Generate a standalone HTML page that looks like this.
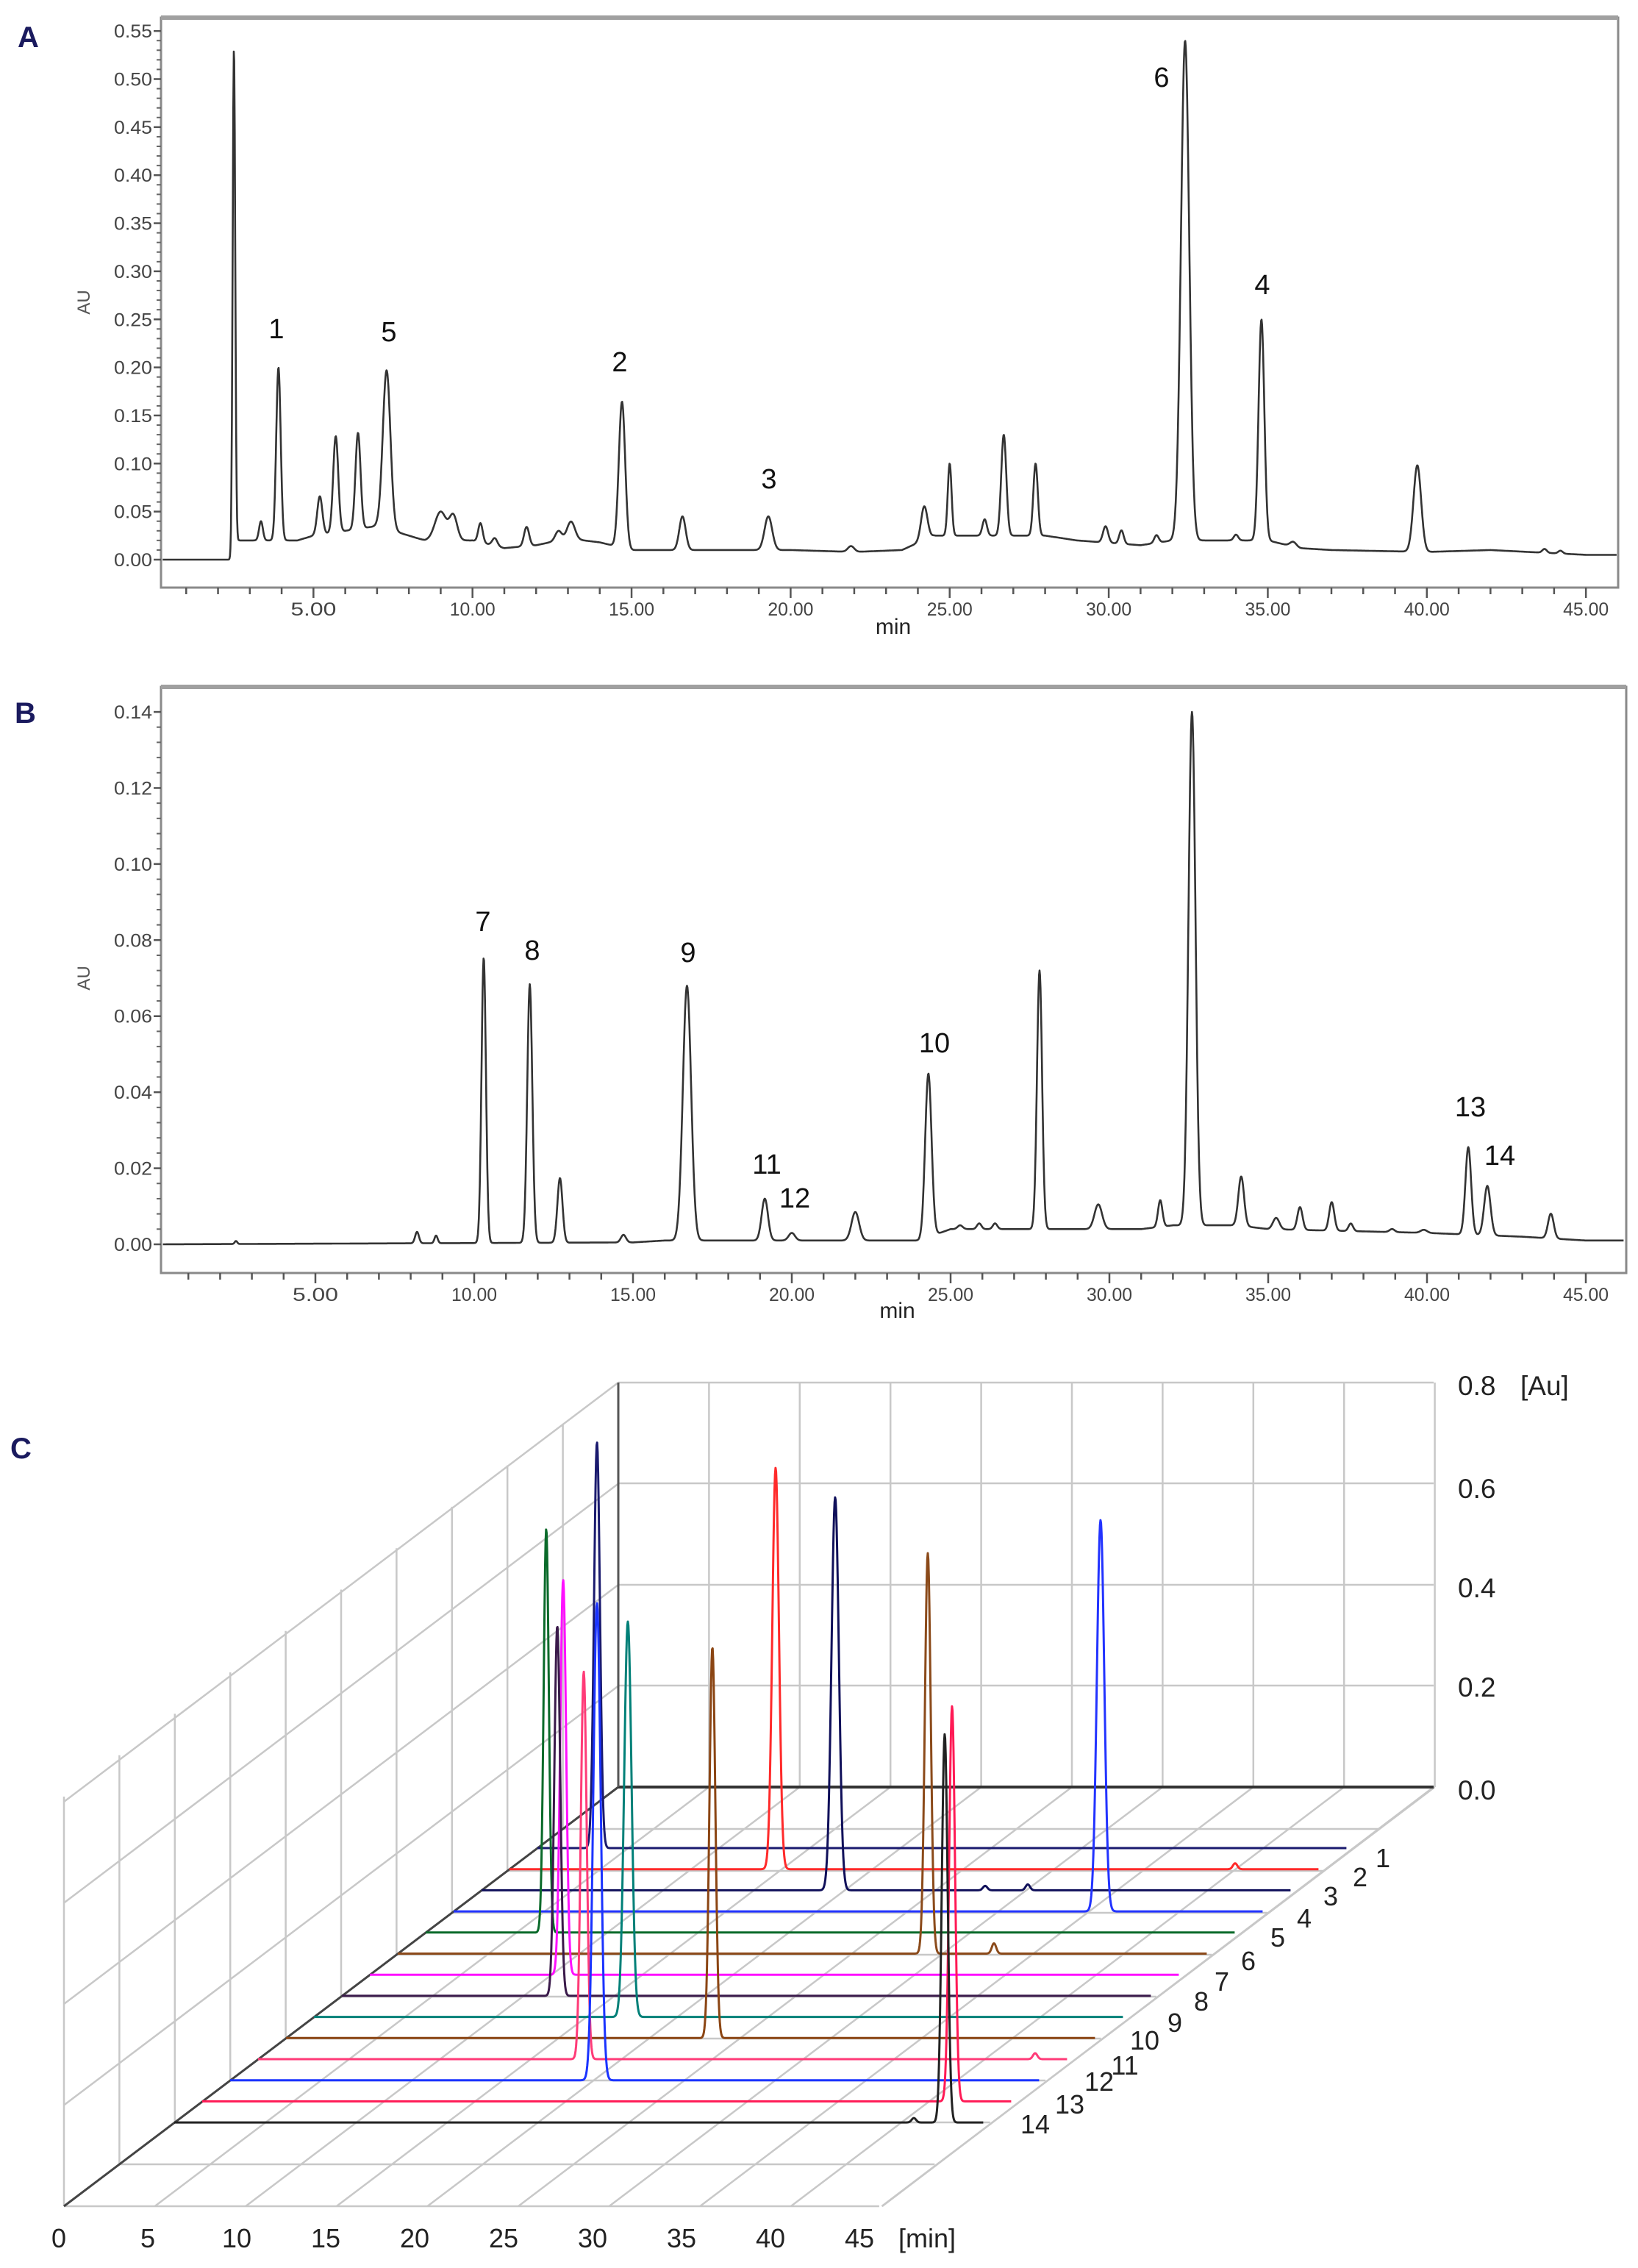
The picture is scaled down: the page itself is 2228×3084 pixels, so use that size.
<!DOCTYPE html>
<html><head><meta charset="utf-8"><style>
html,body{margin:0;padding:0;background:#fff}
svg{display:block}
text{font-family:"Liberation Sans",sans-serif}
</style></head><body>
<svg id="s" xmlns="http://www.w3.org/2000/svg" width="2228" height="3084" viewBox="0 0 2228 3084">
<rect width="2228" height="3084" fill="#fff"/>
<g id="A"></g><g id="B"></g><g id="C"></g>
<text x="24" y="64" font-size="40" font-weight="bold" fill="#1a1a5e">A</text>
<text x="20" y="983" font-size="40" font-weight="bold" fill="#1a1a5e">B</text>
<text x="14" y="1983" font-size="40" font-weight="bold" fill="#1a1a5e">C</text>
</svg>
<script>
var NS="http://www.w3.org/2000/svg";
function el(p,tag,attrs,txt){var e=document.createElementNS(NS,tag);for(var k in attrs)e.setAttribute(k,attrs[k]);if(txt!==undefined)e.textContent=txt;p.appendChild(e);return e;}
function interp(bl,t){for(var i=0;i<bl.length-1;i++){if(t>=bl[i][0]&&t<=bl[i+1][0]){var f=(t-bl[i][0])/(bl[i+1][0]-bl[i][0]);return bl[i][1]+f*(bl[i+1][1]-bl[i][1]);}}return bl[bl.length-1][1];}
function chrom(g,box,t0x,pxmin,y0,pxau,ticks,tickfmt,bl,pk,labels,minY,tickY,auY){
  // box
  el(g,"rect",{x:box[0],y:box[1],width:box[2]-box[0],height:box[3]-box[1],fill:"none",stroke:"#8a8a8a","stroke-width":3});
  el(g,"line",{x1:box[0],y1:box[1],x2:box[2],y2:box[1],stroke:"#a0a0a0","stroke-width":6});
  // x ticks
  for(var m=1;m<=45;m++){var x=t0x+pxmin*m;if(x>box[2])break;var L=(m%5==0)?14:9;
    el(g,"line",{x1:x,y1:box[3],x2:x,y2:box[3]+L,stroke:"#555","stroke-width":2.5});
    if(m%5==0) el(g,"text",{x:x,y:tickY,"font-size":25,"text-anchor":"middle",fill:"#444",textLength:62,lengthAdjust:"spacingAndGlyphs"},m+".00");}
  // y ticks
  ticks.forEach(function(v,i){var y=y0-pxau*v;el(g,"line",{x1:box[0]-10,y1:y,x2:box[0],y2:y,stroke:"#555","stroke-width":2.5});
    el(g,"text",{x:box[0]-12,y:y+9,"font-size":25,"text-anchor":"end",fill:"#444",textLength:52,lengthAdjust:"spacingAndGlyphs"},tickfmt(v));
    if(i<ticks.length-1){var dy=(ticks[1]-ticks[0])*pxau/5;for(var j=1;j<5;j++){el(g,"line",{x1:box[0]-6,y1:y-dy*j,x2:box[0],y2:y-dy*j,stroke:"#666","stroke-width":2});}}});
  el(g,"text",{x:(box[0]+box[2])/2+5,y:minY,"font-size":30,"text-anchor":"middle",fill:"#222"},"min");
  var at=el(g,"text",{x:0,y:0,"font-size":24,"text-anchor":"middle",fill:"#555",transform:"translate(122,"+auY+") rotate(-90)"},"AU");
  // curve
  var d="";for(var t=0.2;t<=46.2;t+=0.015){var v=interp(bl,t);pk.forEach(function(p){var z=(t-p[0])/p[2];if(Math.abs(z)<6)v+=p[1]*Math.exp(-z*z/2);});
    var x=t0x+pxmin*t;if(x<box[0]+2||x>box[2]-2)continue;d+=(d?"L":"M")+x.toFixed(1)+" "+(y0-pxau*v).toFixed(1);}
  el(g,"path",{d:d,fill:"none",stroke:"#333","stroke-width":2.6,"stroke-linejoin":"round"});
  labels.forEach(function(l){el(g,"text",{x:l[1],y:l[2]+14,"font-size":38,"text-anchor":"middle",fill:"#111"},l[0]);});
}
var blA=[[0,0],[2.4,0],[2.55,0.02],[4.5,0.02],[5,0.025],[6,0.03],[7,0.035],[8,0.025],[8.5,0.02],[10,0.02],[11,0.012],[12,0.015],[13,0.022],[14,0.018],[15,0.01],[20,0.01],[22,0.008],[23.5,0.01],[24.5,0.025],[28,0.025],[29,0.02],[31,0.015],[32,0.02],[35,0.02],[36,0.012],[37,0.01],[40,0.008],[42,0.01],[45,0.005],[47,0.005]];
var pkA=[[2.5,0.52,0.04],[3.35,0.02,0.06],[3.9,0.18,0.07],[5.2,0.04,0.08],[5.7,0.1,0.08],[6.4,0.1,0.08],[7.3,0.165,0.12],[9.0,0.03,0.18],[9.4,0.025,0.12],[10.25,0.02,0.07],[10.7,0.008,0.08],[11.7,0.02,0.08],[12.7,0.01,0.1],[13.1,0.018,0.12],[14.7,0.152,0.1],[16.6,0.035,0.1],[19.3,0.035,0.12],[21.9,0.006,0.1],[24.2,0.035,0.1],[25.0,0.075,0.06],[26.1,0.017,0.07],[26.7,0.105,0.08],[27.7,0.075,0.07],[29.9,0.017,0.08],[30.4,0.014,0.07],[31.5,0.008,0.07],[32.4,0.52,0.13],[34.0,0.006,0.07],[34.8,0.23,0.09],[35.8,0.005,0.1],[39.7,0.09,0.12],[43.7,0.004,0.07],[44.2,0.003,0.07]];
var tA=[];for(var i=0;i<=11;i++)tA.push(i*0.05);
chrom(document.getElementById("A"),[219,24,2201,799],210,43.27,761,1307,tA,function(v){return v.toFixed(2)},blA,pkA,
 [["1",376,446],["5",529,450],["2",843,491],["3",1046,650],["6",1580,104],["4",1717,386]],862,837,411);
var blB=[[0,0],[15,0.0005],[16,0.001],[24,0.001],[25,0.004],[31,0.004],[32,0.005],[34,0.005],[35,0.004],[40,0.003],[43,0.002],[45,0.001],[47,0.001]];
var pkB=[[2.5,0.0008,0.04],[8.2,0.003,0.06],[8.8,0.002,0.05],[10.3,0.075,0.07],[11.75,0.068,0.08],[12.7,0.017,0.08],[14.7,0.002,0.08],[16.7,0.067,0.13],[19.15,0.011,0.1],[20.0,0.002,0.1],[22.0,0.0075,0.12],[24.3,0.043,0.1],[25.3,0.001,0.08],[25.9,0.0015,0.07],[26.4,0.0015,0.07],[27.8,0.068,0.08],[29.65,0.0065,0.12],[31.6,0.007,0.07],[32.6,0.135,0.11],[34.15,0.013,0.09],[35.25,0.003,0.1],[36.0,0.006,0.08],[37.0,0.0075,0.08],[37.6,0.002,0.07],[38.9,0.0008,0.08],[39.9,0.0008,0.1],[41.3,0.023,0.09],[41.9,0.013,0.1],[43.9,0.0065,0.09]];
var tB=[];for(var i=0;i<=7;i++)tB.push(i*0.02);
chrom(document.getElementById("B"),[219,934,2212,1731],213,43.2,1692,5171,tB,function(v){return v.toFixed(2)},blB,pkB,
 [["7",657,1252],["8",724,1291],["9",936,1294],["10",1271,1417],["11",1043,1582],["12",1081,1628],["13",2000,1504],["14",2040,1570]],1792,1769,1330);
// Panel C
var C=document.getElementById("C");
function ln(x1,y1,x2,y2,c,w){el(C,"line",{x1:x1,y1:y1,x2:x2,y2:y2,stroke:c,"stroke-width":w});}
var G="#c8c8c8";
// back wall
for(var i=0;i<10;i++){var x=841+i*123.4;ln(x,1880,x,2430,G,2.5);}
[1880,2017,2155,2292].forEach(function(y){ln(841,y,1950,y,G,2.5);});
// left wall
for(var j=0;j<=10;j++){var x=87+j*75.4;var yt=2443-(x-87)*(563/754);var yb=3000-(x-87)*(570/754);ln(x,yt,x,yb,G,2.5);}
[0,137.5,275,412.5,550].forEach(function(h){ln(87,3000-h,841,2430-h,G,2.5);});
// floor
for(var j=1;j<=10;j++){var dy=j*57;var dx=-dy*1.323;ln(841+dx,2430+dy,1950+dx,2430+dy,G,2.5);}
for(var i=0;i<10;i++){ln(87+i*123.6,3000,841+i*123.4,2430,G,2.5);}
ln(1200,3000,1950,2430,G,2.5);
ln(87,3000,841,2430,"#444",3);
ln(841,2430,1950,2430,"#333",4);
ln(841,1880,841,2430,"#555",3);
// traces
var cols=["#1a1a6e","#ff2a2a","#10105a","#2233ff","#0a6a2a","#8b4a1a","#ff10ff","#3a1a4a","#008078","#8b4513","#ff3b78","#1a33ff","#ff1a55","#222222"];
var pks={1:[[812,1961,4]],2:[[1055,1996,4.5],[1680,-8,3]],3:[[1136,2036,5],[1340,-6,3],[1398,-8,3]],4:[[1497,2067,5]],5:[[743,2079,3.5]],6:[[1262,2112,4],[1352,-14,3]],7:[[766,2148,4]],8:[[758,2211,4]],9:[[854,2205,5]],10:[[969,2240,4]],11:[[794,2273,4],[1408,-8,3]],12:[[812,2180,5]],13:[[1295,2320,4]],14:[[1285,2358,4],[1243,-6,3]]};
for(var k=1;k<=14;k++){var y0=2513+(k-1)*28.7,xs=731-(k-1)*38,xe=1832-(k-1)*38;var d="";
  for(var x=xs;x<=xe;x+=0.7){var h=0;pks[k].forEach(function(p){var H=p[1]<0?-p[1]:y0-p[1];var z=(x-p[0])/p[2];if(Math.abs(z)<7)h+=H*Math.exp(-z*z/2);});
    d+=(d?"L":"M")+x.toFixed(1)+" "+(y0-h).toFixed(1);}
  el(C,"path",{d:d,fill:"none",stroke:cols[k-1],"stroke-width":3,"stroke-linejoin":"round"});}
// labels
[["0.8",1897],["0.6",2037],["0.4",2172],["0.2",2307],["0.0",2447]].forEach(function(a){el(C,"text",{x:1983,y:a[1],"font-size":37,fill:"#222"},a[0]);});
el(C,"text",{x:2068,y:1897,"font-size":37,fill:"#222"},"[Au]");
for(var i=0;i<10;i++){el(C,"text",{x:80+i*121,y:3056,"font-size":36,"text-anchor":"middle",fill:"#222"},String(i*5));}
el(C,"text",{x:1222,y:3056,"font-size":36,fill:"#222"},"[min]");
var tl=[[1881,2525],[1850,2551],[1810,2577],[1774,2607],[1738,2633],[1698,2665],[1662,2693],[1634,2720],[1598,2749],[1557,2773],[1530,2807],[1495,2829],[1455,2860],[1408,2887]];
tl.forEach(function(p,i){el(C,"text",{x:p[0],y:p[1]+14,"font-size":36,"text-anchor":"middle",fill:"#222"},String(i+1));});
</script>
</body></html>
